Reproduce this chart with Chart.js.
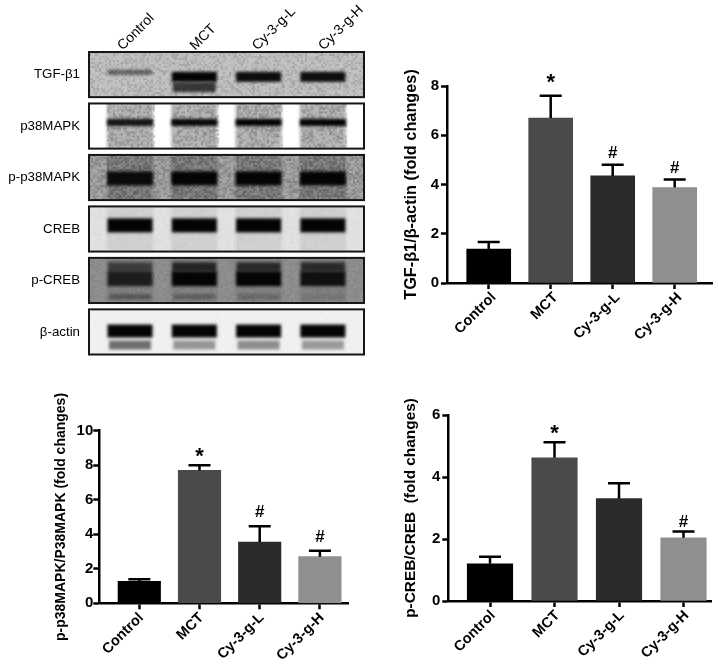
<!DOCTYPE html>
<html>
<head>
<meta charset="utf-8">
<title>Western blot and fold changes</title>
<script src="https://cdn.jsdelivr.net/npm/chart.js@4"></script>
<style>
  html, body { margin: 0; padding: 0; background: #fff; }
  #page { position: relative; width: 718px; height: 666px; overflow: hidden; }
  #page div { position: absolute; }
  canvas { filter: blur(0.35px); }
</style>
</head>
<body>
<div id="page">
  <div style="left:0;top:0;width:380px;height:364px"><canvas id="blot"></canvas></div>
  <div style="left:395px;top:60px;width:323px;height:300px"><canvas id="tgf"></canvas></div>
  <div style="left:40px;top:385px;width:330px;height:281px"><canvas id="p38"></canvas></div>
  <div style="left:395px;top:385px;width:323px;height:281px"><canvas id="creb"></canvas></div>
</div>
<script>
// values
const categories = ['Control', 'MCT', 'Cy-3-g-L', 'Cy-3-g-H'];
const barColors = ['#000000', '#4a4a4a', '#2b2b2b', '#8f8f8f'];

const tgfValues = [1.38, 6.7, 4.35, 3.88];
const tgfErrorTops = [1.67, 7.6, 4.8, 4.2];
const tgfMarks = ['', '*', '#', '#'];
const tgfTicks = [0, 2, 4, 6, 8];

const p38Values = [1.27, 7.7, 3.55, 2.7];
const p38ErrorTops = [1.4, 8.0, 4.47, 3.05];
const p38Marks = ['', '*', '#', '#'];
const p38Ticks = [0, 2, 4, 6, 8, 10];

const crebValues = [1.2, 4.62, 3.3, 2.04];
const crebErrorTops = [1.43, 5.12, 3.8, 2.24];
const crebMarks = ['', '*', '', '#'];
const crebTicks = [0, 2, 4, 6];

// blot rows and how dark each lane's band is (0-1)
const blotRows = ['TGF-β1', 'p38MAPK', 'p-p38MAPK', 'CREB', 'p-CREB', 'β-actin'];
const tgfFaintBand = [0.5, 0, 0, 0];
const tgfBand = [0, 1, 0.95, 0.95];
const tgfLowerBand = [0, 0.72, 0, 0];
const p38Band = [0.9, 0.97, 1, 1];
const pp38Band = [0.95, 1, 1, 1];
const crebBand = [1, 1, 1, 1];
const pcrebUpperBand = [0.55, 0.75, 0.7, 0.7];
const pcrebMainBand = [0.8, 1, 1, 0.9];
const pcrebLowerBand = [0.35, 0.28, 0.2, 0.08];
const actinBand = [1, 1, 1, 1];
const actinLowerBand = [0.55, 0.38, 0.42, 0.36];

const FONT = '"Liberation Sans", Arial, sans-serif';
Chart.defaults.animation = false;
Chart.defaults.responsive = false;
Chart.defaults.color = '#111';
Chart.defaults.font.family = FONT;

// error bars + significance marks, drawn through the chart's scales
const errorPlugin = {
  id: 'errorMarks',
  afterDatasetsDraw(chart, args, opts) {
    const { ctx, scales: { x, y } } = chart;
    ctx.save();
    ctx.strokeStyle = '#000';
    ctx.fillStyle = '#000';
    ctx.lineWidth = 2.5;
    ctx.textAlign = 'center';
    opts.tops.forEach((top, i) => {
      const px = x.getPixelForValue(i);
      const py = y.getPixelForValue(top);
      ctx.beginPath();
      ctx.moveTo(px, y.getPixelForValue(opts.values[i]));
      ctx.lineTo(px, py);
      ctx.moveTo(px - 11, py);
      ctx.lineTo(px + 11, py);
      ctx.stroke();
      const mark = opts.marks[i];
      if (mark === '*') {
        ctx.font = 'bold 22px ' + FONT;
        ctx.fillText(mark, px, py - opts.starLift);
      } else if (mark === '#') {
        ctx.font = 'bold 17px ' + FONT;
        ctx.fillText(mark, px, py - opts.hashLift);
      }
    });
    ctx.restore();
  }
};

// box = canvas box, axisX/axisRight/y0/yTop = pixel frame inside the page,
// first/step = centre of first bar and spacing
function barChart(id, cfg) {
  const [left, top, width, height] = cfg.box;
  const canvas = document.getElementById(id);
  canvas.width = width;
  canvas.height = height;
  const xMin = (cfg.axisX - cfg.first) / cfg.step;
  const xMax = (cfg.axisRight - cfg.first) / cfg.step;
  return new Chart(canvas, {
    type: 'bar',
    data: {
      datasets: [{
        data: cfg.values.map((v, i) => ({ x: i, y: v })),
        backgroundColor: barColors,
        barThickness: cfg.barWidth
      }]
    },
    options: {
      layout: { padding: { top: cfg.yTop - top, right: left + width - cfg.axisRight, left: 0, bottom: 0 } },
      plugins: {
        legend: { display: false },
        tooltip: { enabled: false },
        errorMarks: { values: cfg.values, tops: cfg.tops, marks: cfg.marks, starLift: cfg.starLift, hashLift: cfg.hashLift }
      },
      scales: {
        x: {
          type: 'linear',
          offset: false,
          min: xMin,
          max: xMax,
          afterBuildTicks: s => { s.ticks = categories.map((c, i) => ({ value: i })); },
          afterFit: s => { s.height = top + height - cfg.y0; },
          border: { color: '#000', width: 2.5 },
          grid: { offset: false, drawOnChartArea: false, color: '#000', tickColor: '#000', tickWidth: 2.5, tickLength: 6 },
          ticks: {
            autoSkip: false,
            minRotation: 45,
            maxRotation: 45,
            padding: 0,
            labelOffset: cfg.labelShift,
            color: '#000',
            font: { size: 14.5, weight: 'bold' },
            callback: v => categories[v]
          }
        },
        y: {
          min: 0,
          max: cfg.ticks[cfg.ticks.length - 1],
          afterBuildTicks: s => { s.ticks = cfg.ticks.map(v => ({ value: v })); },
          afterFit: s => { s.width = cfg.axisX - left; },
          border: { color: '#000', width: 2.5 },
          grid: { drawOnChartArea: false, color: '#000', tickColor: '#000', tickWidth: 2.5, tickLength: 6 },
          ticks: { padding: cfg.yTickPad, color: '#000', font: { size: 15, weight: 'bold' } },
          title: {
            display: true,
            text: cfg.title,
            color: '#000',
            padding: { top: cfg.titlePad, bottom: 0 },
            font: { size: cfg.titleSize, weight: 'bold' }
          }
        }
      }
    },
    plugins: [errorPlugin]
  });
}

barChart('tgf', {
  box: [395, 60, 323, 300], axisX: 447, axisRight: 712, y0: 283, yTop: 86,
  first: 488.7, step: 62, barWidth: 44, titlePad: 7, titleSize: 16.3, yTickPad: 2,
  labelShift: 5, starLift: 7, hashLift: 7,
  values: tgfValues, tops: tgfErrorTops, marks: tgfMarks, ticks: tgfTicks,
  title: 'TGF-β1/β-actin (fold changes)'
});
barChart('p38', {
  box: [40, 385, 330, 281], axisX: 99.3, axisRight: 348, y0: 603.3, yTop: 430.7,
  first: 139.3, step: 60.2, barWidth: 42.5, titlePad: 13, titleSize: 14, yTickPad: 0,
  labelShift: 2, starLift: 2, hashLift: 9,
  values: p38Values, tops: p38ErrorTops, marks: p38Marks, ticks: p38Ticks,
  title: 'p-p38MAPK/P38MAPK (fold changes)'
});
barChart('creb', {
  box: [395, 385, 323, 281], axisX: 448.3, axisRight: 711.7, y0: 601, yTop: 415,
  first: 490, step: 64.5, barWidth: 45.5, titlePad: 7, titleSize: 15.4, yTickPad: 2,
  labelShift: 3, starLift: 2.5, hashLift: 5,
  values: crebValues, tops: crebErrorTops, marks: crebMarks, ticks: crebTicks,
  title: 'p-CREB/CREB  (fold changes)'
});

// how each membrane looks: y is a fraction of the panel height, h is pixels
const membranes = [
  { bg: '#bdbdbd', grain: 0.13, full: true, smear: null,
    bands: [{ d: tgfFaintBand, y: 0.45, h: 5, w: 44 }, { d: tgfBand, y: 0.55, h: 10, w: 45 }, { d: tgfLowerBand, y: 0.78, h: 10, w: 43 }] },
  { bg: '#ffffff', grain: 0.2, full: false, smear: 'rgba(60,60,60,0.42)',
    bands: [{ d: p38Band, y: 0.42, h: 7, w: 46 }] },
  { bg: '#9b9b9b', grain: 0.17, full: true, smear: 'rgba(30,30,30,0.3)',
    bands: [{ d: pp38Band, y: 0.52, h: 14, w: 46 }] },
  { bg: '#e2e2e2', grain: 0.03, full: true, smear: 'rgba(60,60,60,0.1)',
    bands: [{ d: crebBand, y: 0.42, h: 14, w: 45 }] },
  { bg: '#8d8d8d', grain: 0.05, full: true, smear: 'rgba(30,30,30,0.12)',
    bands: [{ d: pcrebUpperBand, y: 0.2, h: 9, w: 44 }, { d: pcrebMainBand, y: 0.46, h: 15, w: 45 }, { d: pcrebLowerBand, y: 0.86, h: 5, w: 42 }] },
  { bg: '#f1f1f1', grain: 0.02, full: true, smear: null,
    bands: [{ d: actinBand, y: 0.48, h: 13, w: 45 }, { d: actinLowerBand, y: 0.79, h: 9, w: 42 }] }
];
const PANEL_ROWS = 0.877;
// px nudge of the lane captions above the blot
const captionNudge = [0, 8, 6, 8];

// fixed speckle, the same on every run
function speckle(a, b) {
  const s = Math.sin(a * 12.9898 + b * 78.233) * 43758.5453;
  return s - Math.floor(s);
}

const blotPlugin = {
  id: 'blotPanels',
  beforeDraw(chart) {
    const { ctx, scales: { x, y } } = chart;
    const left = x.left, right = x.right;
    membranes.forEach((m, row) => {
      const top = y.getPixelForValue(row);
      const bottom = y.getPixelForValue(row + PANEL_ROWS);
      const h = bottom - top;
      ctx.save();
      ctx.beginPath();
      ctx.rect(left, top, right - left, h);
      ctx.clip();
      ctx.fillStyle = m.bg;
      ctx.fillRect(left, top, right - left, h);
      if (m.smear) {
        ctx.filter = 'blur(1.5px)';
        ctx.fillStyle = m.smear;
        categories.forEach((c, i) => {
          ctx.fillRect(x.getPixelForValue(i) - 23, top, 46, h);
        });
        ctx.filter = 'none';
      }
      // grain
      for (let py = top; py < bottom; py += 2) {
        for (let px = left; px < right; px += 2) {
          if (!m.full) {
            const lane = Math.round(x.getValueForPixel(px));
            if (lane < 0 || lane > 3 || Math.abs(px - x.getPixelForValue(lane)) > 23) continue;
          }
          const n = speckle(px, py);
          ctx.fillStyle = n > 0.5 ? 'rgba(0,0,0,' + ((n - 0.5) * 2 * m.grain) + ')' : 'rgba(255,255,255,' + ((0.5 - n) * 2 * m.grain) + ')';
          ctx.fillRect(px, py, 2, 2);
        }
      }
      // bands
      ctx.filter = 'blur(1.8px)';
      m.bands.forEach(b => {
        b.d.forEach((dark, i) => {
          if (!dark) return;
          ctx.fillStyle = 'rgba(4,4,4,' + dark + ')';
          ctx.fillRect(x.getPixelForValue(i) - b.w / 2, top + b.y * h - b.h / 2, b.w, b.h);
        });
      });
      ctx.restore();
      ctx.strokeStyle = '#161616';
      ctx.lineWidth = 2;
      ctx.strokeRect(left, top, right - left, h);
    });
  }
};

const blotCanvas = document.getElementById('blot');
blotCanvas.width = 380;
blotCanvas.height = 364;
new Chart(blotCanvas, {
  type: 'scatter',
  data: { datasets: [] },
  options: {
    layout: { padding: { top: 0, left: 0, right: 16, bottom: 6 } },
    plugins: { legend: { display: false }, tooltip: { enabled: false } },
    scales: {
      x: {
        type: 'linear',
        position: 'top',
        min: (89 - 130) / 64.3,
        max: (364 - 130) / 64.3,
        afterBuildTicks: s => { s.ticks = categories.map((c, i) => ({ value: i + captionNudge[i] / 64.3 })); },
        afterFit: s => { s.height = 52; },
        border: { display: false },
        grid: { display: false },
        ticks: { autoSkip: false, minRotation: 45, maxRotation: 45, padding: -10, labelOffset: 2, color: '#000', font: { size: 14 }, callback: (v, i) => categories[i] }
      },
      y: {
        type: 'linear',
        reverse: true,
        min: 0,
        max: 302 / 51.3,
        afterBuildTicks: s => { s.ticks = blotRows.map((r, i) => ({ value: i + PANEL_ROWS / 2 })); },
        afterFit: s => { s.width = 89; },
        border: { display: false },
        grid: { display: false },
        ticks: { autoSkip: false, padding: 1, color: '#000', font: { size: 13.3 }, callback: v => blotRows[Math.floor(v)] }
      }
    }
  },
  plugins: [blotPlugin]
});
</script>
</body>
</html>
